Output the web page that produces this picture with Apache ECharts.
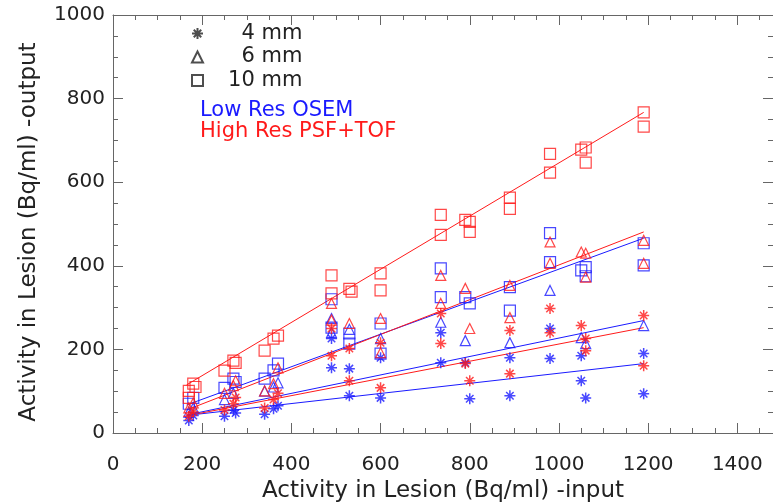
<!DOCTYPE html>
<html><head><meta charset="utf-8">
<script src="https://cdn.jsdelivr.net/npm/echarts@6/dist/echarts.min.js"></script>
<style>html,body{margin:0;padding:0;background:#fff}#c{width:773px;height:504px}</style>
</head><body><div id="c"></div>
<script>
// ---- data (input activity, output activity) ----
const xTicks = [0, 200, 400, 600, 800, 1000, 1200, 1400];
const yTicks = [0, 200, 400, 600, 800, 1000];

const blue4 = [[170,30],[180,42],[250,40],[270,55],[275,48],[340,45],[360,58],[370,65],[490,226],[490,156],[530,154],[530,89],[600,180],[600,84],[735,240],[735,168],[790,168],[800,82],[890,180],[890,89],[980,250],[980,178],[1050,185],[1050,125],[1060,84],[1190,190],[1190,94]];
const blue6 = [[170,50],[180,60],[250,80],[270,95],[340,100],[360,110],[370,120],[490,274],[490,240],[530,248],[600,226],[735,265],[790,221],[890,216],[980,341],[1050,228],[1060,214],[1190,257]];
const blue10 = [[170,70],[180,84],[250,108],[270,130],[275,122],[340,130],[360,150],[370,166],[490,320],[490,252],[530,238],[530,214],[600,262],[600,190],[735,394],[735,325],[790,325],[800,310],[890,349],[890,293],[980,478],[980,409],[1050,389],[1060,397],[1060,375],[1190,454],[1190,401]];
const red4 = [[170,40],[180,50],[250,55],[270,70],[275,85],[340,60],[360,80],[370,95],[490,250],[490,185],[530,202],[530,125],[600,216],[600,108],[735,286],[735,214],[790,166],[800,125],[890,245],[890,142],[980,298],[980,240],[1050,257],[1060,226],[1060,197],[1190,281],[1190,161]];
const red6 = [[170,60],[180,72],[250,95],[270,113],[275,125],[340,101],[360,118],[370,156],[490,310],[490,270],[530,262],[600,274],[600,192],[735,377],[735,310],[790,346],[800,250],[890,353],[890,276],[980,457],[980,406],[1050,433],[1060,430],[1060,373],[1190,461],[1190,406]];
const red10 = [[170,101],[170,84],[180,118],[185,110],[250,149],[270,173],[275,168],[340,197],[360,226],[370,233],[490,377],[490,334],[530,345],[535,338],[600,382],[600,341],[735,522],[735,474],[790,510],[800,505],[800,481],[890,563],[890,536],[980,668],[980,623],[1050,678],[1060,683],[1060,647],[1190,767],[1190,733]];

// fitted lines: [start, end]
const fitBlue4 = [[165,42],[1190,166]];
const fitBlue6 = [[165,43],[1190,269]];
const fitBlue10 = [[165,67],[1190,466]];
const fitRed4 = [[165,41],[1190,252]];
const fitRed6 = [[165,55],[1190,481]];
const fitRed10 = [[165,115],[1190,767]];

const legendNames = ['\u2007 \u20074 mm', '\u2007 \u20076 mm', '\u2007 10 mm'];
const methodLabels = ['Low Res OSEM', 'High Res PSF+TOF'];

const BLUE = '#1a1aff', RED = '#ff1a1a', INK = '#222', AX = '#666';
const FONT = 'DejaVu Sans';
const STAR = 'path://M5,0L5,10M0,5L10,5M1.6,1.6L8.4,8.4M8.4,1.6L1.6,8.4';
const shapes = [STAR, 'triangle', 'rect'];
const sizes = [11, 10, 11];

function scatter(name, data, sym, size, color) {
  return { type: 'scatter', name: name, data: data, symbol: sym, symbolSize: size,
    itemStyle: { color: 'rgba(0,0,0,0)', borderColor: color, borderWidth: sym === STAR ? 1.5 : 1.2 },
    emphasis: { disabled: true }, z: 3 };
}
function fit(data, color) {
  return { type: 'line', data: data, symbol: 'none', silent: true,
    lineStyle: { color: color, width: 1 }, z: 2 };
}

const series = [
  fit(fitBlue4, BLUE), fit(fitBlue6, BLUE), fit(fitBlue10, BLUE),
  fit(fitRed4, RED), fit(fitRed6, RED), fit(fitRed10, RED),
  scatter('b4', blue4, shapes[0], sizes[0], BLUE),
  scatter('b6', blue6, shapes[1], sizes[1], BLUE),
  scatter('b10', blue10, shapes[2], sizes[2], BLUE),
  scatter('r4', red4, shapes[0], sizes[0], RED),
  scatter('r6', red6, shapes[1], sizes[1], RED),
  scatter('r10', red10, shapes[2], sizes[2], RED)
];
legendNames.forEach((n, i) => series.push(scatter(n, [], shapes[i], sizes[i] - 1, INK)));

function axisParts(showLine) {
  return {
    axisLine: { show: showLine, onZero: false, lineStyle: { color: AX, width: 1 } },
    axisTick: { show: true, inside: false, length: -10, lineStyle: { color: AX, width: 1 } },
    minorTick: { show: true, splitNumber: 4, length: -5, lineStyle: { color: AX, width: 1 } },
    splitLine: { show: false }, minorSplitLine: { show: false }
  };
}
const labelFont = { fontFamily: FONT, fontSize: 20, color: INK };
const titleFont = { fontFamily: FONT, fontSize: 23, color: INK };

const chart = echarts.init(document.getElementById('c'), null, { renderer: 'canvas' });
chart.setOption({
  animation: false,
  backgroundColor: '#fff',
  grid: { left: 113, right: 0, top: 15, bottom: 71, containLabel: false, outerBoundsMode: 'none' },
  xAxis: [
    Object.assign({ type: 'value', min: xTicks[0], max: 1480, interval: 200, position: 'bottom',
      name: 'Activity in Lesion (Bq/ml) -input', nameLocation: 'middle', nameGap: 44,
      nameTextStyle: titleFont,
      axisLabel: Object.assign({ showMaxLabel: false, margin: 22,
        formatter: v => (xTicks.indexOf(v) >= 0 ? String(v) : '') }, labelFont) }, axisParts(true)),
    Object.assign({ type: 'value', min: xTicks[0], max: 1480, interval: 200, position: 'top',
      axisLabel: { show: false } }, axisParts(true))
  ],
  yAxis: [
    Object.assign({ type: 'value', min: yTicks[0], max: yTicks[yTicks.length - 1], interval: 200, position: 'left',
      name: 'Activity in Lesion (Bq/ml) -output', nameLocation: 'middle', nameGap: 72,
      nameTextStyle: Object.assign({ padding: [0, 16, 0, 0] }, titleFont),
      axisLabel: Object.assign({ margin: 8, formatter: v => String(v) }, labelFont) }, axisParts(true)),
    Object.assign({ type: 'value', min: yTicks[0], max: yTicks[yTicks.length - 1], interval: 200, position: 'right',
      axisLabel: { show: false } }, axisParts(false))
  ],
  legend: {
    data: legendNames, orient: 'vertical', left: 191, top: 23, itemGap: 2.5,
    itemWidth: 11, itemHeight: 11, selectedMode: false, padding: 0,
    textStyle: { fontFamily: FONT, fontSize: 21, color: INK }
  },
  graphic: [
    { type: 'text', left: 200, top: 100, style: { text: methodLabels[0], fill: BLUE, font: '21px "' + FONT + '"' } },
    { type: 'text', left: 200, top: 121, style: { text: methodLabels[1], fill: RED, font: '21px "' + FONT + '"' } }
  ],
  series: series
});
</script></body></html>
